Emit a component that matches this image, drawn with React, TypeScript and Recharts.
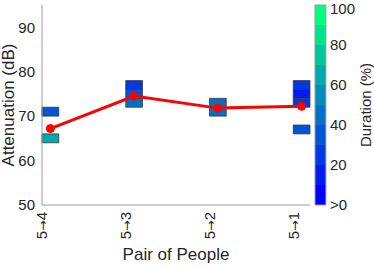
import React from 'react';
import { ComposedChart, XAxis, YAxis, Line, ReferenceArea } from 'recharts';

const categoryFrom = ['5', '5', '5', '5'];
const categoryTo = ['4', '3', '2', '1'];
const categoryPositions = [1, 2, 3, 4];
const meanAttenuation = [67.2, 74.5, 71.8, 72.2];

// blocks: category index, low dB, high dB, duration %
const blockPair = [0, 0, 1, 1, 1, 2, 3, 3, 3, 3];
const blockLow = [70, 64, 76, 74, 72, 70, 76, 74, 72, 66];
const blockHigh = [72, 66, 78, 76, 74, 74, 78, 76, 74, 68];
const blockDuration = [32, 62, 25, 32, 42, 45, 22, 12, 22, 32];

const yTicks = [50, 60, 70, 80, 90];
const durationTicks = [0, 20, 40, 60, 80, 100];
const durationLevels = [0, 10, 20, 30, 40, 50, 60, 70, 80, 90];

const winter = (level: number) => {
  const t = level / 9;
  const g = Math.round(255 * t);
  const b = Math.round(255 * (1 - t / 2));
  return `rgb(0,${g},${b})`;
};
const durColor = (d: number) => winter(Math.min(9, Math.floor(d / 10)));

const lineData = categoryPositions.map((p, i) => ({ x: p + 0.1, y: meanAttenuation[i] }));
const cbData = [0, 100].map((d) => ({ x: 4.3, d }));

const TXT = '#262626';
const AX = '#9a9a9a';
const FONT = '"Liberation Sans", Arial, sans-serif';

const XTick = (props: any) => {
  const { x, payload } = props;
  const idx = categoryPositions.indexOf(payload.value);
  return (
    <g transform={`translate(${x},212)`}>
      <text transform="rotate(-90)" textAnchor="end" dy="0.35em" fontSize={15} fill={TXT} fontFamily={FONT}>
        {categoryFrom[idx]}
        <tspan fontSize={12.5} fontFamily="DejaVu Sans">→</tspan>
        {categoryTo[idx]}
      </text>
    </g>
  );
};

export default function App() {
  return (
    <div style={{ position: 'absolute', left: 0, top: 0 }}>
      <ComposedChart width={374} height={266} margin={{ top: 5, right: 0, left: 0, bottom: 0 }}>
        <XAxis
          type="number"
          dataKey="x"
          xAxisId="x"
          domain={[1, 4.2]}
          ticks={categoryPositions}
          tick={<XTick />}
          height={61}
          stroke={AX}
          tickLine={false}
          allowDataOverflow
          label={{
            content: () => (
              <text x={176} y={260} textAnchor="middle" fontSize={17} fill={TXT} fontFamily={FONT}>
                Pair of People
              </text>
            ),
          }}
        />
        <YAxis
          yAxisId="y"
          type="number"
          domain={[50, 95]}
          ticks={yTicks}
          width={42}
          stroke={AX}
          tickLine={false}
          tickSize={4}
          tickMargin={3}
          allowDataOverflow
          tick={{ fontSize: 15, fill: TXT, fontFamily: FONT }}
          label={{
            content: () => (
              <text
                transform="translate(8,105) rotate(-90)"
                textAnchor="middle"
                dy="0.35em"
                fontSize={17}
                fill={TXT}
                fontFamily={FONT}
              >
                Attenuation (dB)
              </text>
            ),
          }}
        />
        <YAxis
          yAxisId="cb"
          orientation="right"
          type="number"
          dataKey="d"
          domain={[0, 100]}
          ticks={durationTicks}
          width={64}
          axisLine={false}
          tickLine={false}
          tickSize={0}
          tickMargin={20}
          allowDataOverflow
          tickFormatter={(v: number) => (v === 0 ? '>0' : String(v))}
          tick={{ fontSize: 15, fill: TXT, fontFamily: FONT }}
          label={{
            content: () => (
              <text
                transform="translate(366,105) rotate(-90)"
                textAnchor="middle"
                dy="0.35em"
                fontSize={15}
                fill={TXT}
                fontFamily={FONT}
              >
                Duration (%)
              </text>
            ),
          }}
        />
        <Line
          xAxisId="x"
          yAxisId="cb"
          data={cbData}
          dataKey="d"
          stroke="none"
          dot={false}
          activeDot={false}
          isAnimationActive={false}
        />
        {durationLevels.map((lv, i) => (
          <ReferenceArea
            key={`cb${i}`}
            xAxisId="x"
            yAxisId="cb"
            x1={4.26}
            x2={4.39}
            y1={lv}
            y2={lv + 10}
            fill={winter(i)}
            fillOpacity={1}
            stroke="none"
            ifOverflow="visible"
          />
        ))}
        <ReferenceArea
          xAxisId="x"
          yAxisId="cb"
          x1={4.26}
          x2={4.39}
          y1={0}
          y2={100}
          fill="none"
          stroke={AX}
          strokeWidth={1}
          ifOverflow="visible"
        />
        {blockPair.map((p, i) => (
          <ReferenceArea
            key={`b${i}`}
            xAxisId="x"
            yAxisId="y"
            x1={categoryPositions[p]}
            x2={categoryPositions[p] + 0.2}
            y1={blockLow[i]}
            y2={blockHigh[i]}
            fill={durColor(blockDuration[i])}
            fillOpacity={1}
            stroke="#3a3a3a"
            strokeWidth={0.8}
            ifOverflow="visible"
          />
        ))}
        <Line
          xAxisId="x"
          yAxisId="y"
          data={lineData}
          dataKey="y"
          stroke="#ff0000"
          strokeWidth={3}
          dot={{ r: 4, fill: '#ff0000', stroke: '#ff0000', strokeWidth: 1 }}
          isAnimationActive={false}
        />
      </ComposedChart>
    </div>
  );
}
